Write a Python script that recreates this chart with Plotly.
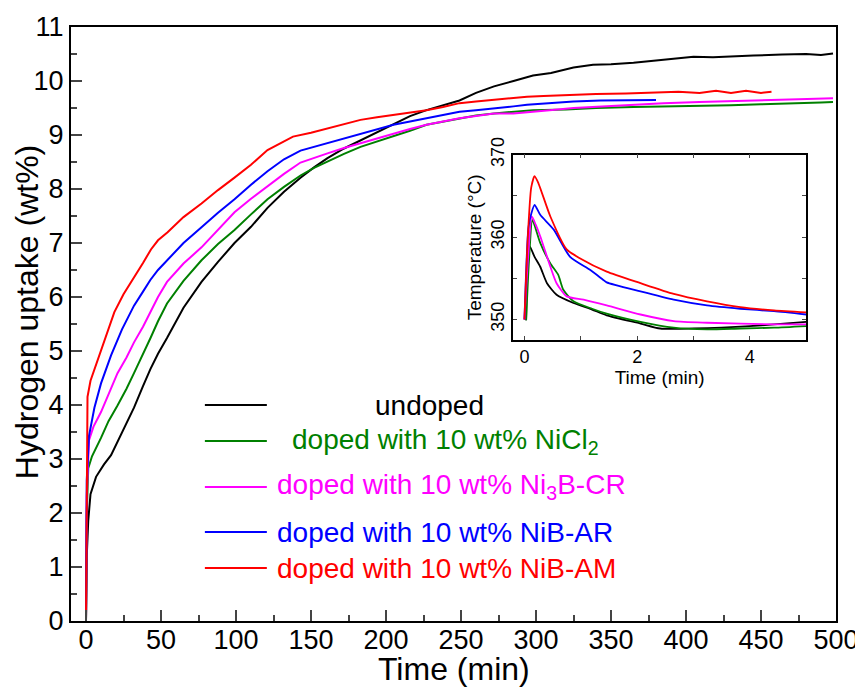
import plotly.graph_objects as go

# ---------------- main panel data: hydrogen uptake (wt%) vs time (min) ----------------
t_undoped = [0, 0.5, 1.5, 3, 6.7, 12, 16.7, 24, 32, 38, 43, 48, 54, 65, 77, 88, 99, 110, 121, 132,
             143, 152, 161, 172, 183, 194, 205, 216, 227, 238, 249, 260, 272, 285, 298, 310, 325, 338,
             350, 365, 380, 395, 405, 418, 431, 445, 464, 480, 490, 498]
h_undoped = [0, 1.2, 1.86, 2.35, 2.67, 2.9, 3.07, 3.5, 3.95, 4.35, 4.67, 4.95, 5.24, 5.8, 6.28, 6.65,
             7.0, 7.3, 7.65, 7.95, 8.21, 8.4, 8.57, 8.75, 8.9, 9.05, 9.2, 9.35, 9.46, 9.55, 9.64, 9.78,
             9.9, 10.0, 10.1, 10.15, 10.25, 10.30, 10.31, 10.34, 10.38, 10.42, 10.45, 10.44, 10.46,
             10.47, 10.49, 10.50, 10.48, 10.51]

t_nicl2 = [0, 0.5, 1.5, 4, 10, 15, 21, 27, 32, 38, 43, 48, 54, 65, 77, 88, 99, 110, 121, 132, 143,
           152, 161, 172, 183, 194, 205, 216, 227, 238, 249, 260, 272, 285, 298, 320, 340, 365, 390,
           410, 430, 450, 470, 490, 498]
h_nicl2 = [0, 2.0, 2.83, 3.05, 3.39, 3.7, 3.99, 4.3, 4.59, 4.93, 5.24, 5.55, 5.88, 6.3, 6.68, 6.98,
           7.24, 7.53, 7.81, 8.04, 8.25, 8.39, 8.51, 8.65, 8.78, 8.88, 8.97, 9.08, 9.19, 9.25, 9.31,
           9.36, 9.40, 9.43, 9.46, 9.47, 9.50, 9.52, 9.53, 9.55, 9.55, 9.57, 9.58, 9.60, 9.61]

t_ni3b = [0, 0.5, 2, 5, 10, 15, 21, 27, 32, 38, 43, 48, 54, 65, 77, 88, 99, 110, 121, 132, 143, 152,
          161, 172, 183, 194, 205, 216, 227, 238, 249, 260, 272, 285, 298, 309, 325, 345, 365, 385,
          409, 430, 453, 475, 498]
h_ni3b = [0, 2.3, 3.35, 3.6, 3.87, 4.2, 4.59, 4.88, 5.16, 5.45, 5.72, 6.0, 6.28, 6.62, 6.92, 7.25,
          7.57, 7.82, 8.05, 8.28, 8.49, 8.58, 8.66, 8.76, 8.85, 8.94, 9.03, 9.11, 9.19, 9.25, 9.31,
          9.35, 9.40, 9.40, 9.44, 9.46, 9.50, 9.53, 9.57, 9.59, 9.61, 9.63, 9.65, 9.66, 9.68]

t_nibar = [0, 0.5, 2, 5.6, 10, 16.7, 24, 32, 38, 43, 48, 54, 65, 77, 88, 99, 110, 121, 132, 143,
           152, 161, 172, 183, 194, 205, 216, 227, 238, 249, 260, 272, 285, 294, 309, 325, 343, 360, 380]
h_nibar = [0, 2.6, 3.43, 3.95, 4.4, 4.92, 5.4, 5.84, 6.1, 6.32, 6.5, 6.68, 7.0, 7.29, 7.56, 7.81,
           8.08, 8.33, 8.55, 8.71, 8.78, 8.85, 8.94, 9.03, 9.11, 9.19, 9.25, 9.31, 9.37, 9.43, 9.46,
           9.49, 9.53, 9.56, 9.59, 9.62, 9.64, 9.64, 9.65]

t_nibam = [0, 0.5, 1, 3, 7.8, 13, 18.9, 25, 32.2, 38, 43.3, 48, 54.4, 65, 77, 88, 99, 110, 121, 132,
           138, 150, 161, 172, 183, 194, 205, 216, 227, 238, 249, 260, 272, 285, 294, 305, 320, 340,
           360, 373, 385, 395, 409, 420, 430, 440, 450, 457]
h_nibam = [0, 3.5, 4.15, 4.45, 4.83, 5.25, 5.72, 6.05, 6.36, 6.63, 6.88, 7.05, 7.2, 7.48, 7.73, 7.98,
           8.21, 8.45, 8.72, 8.88, 8.97, 9.04, 9.12, 9.2, 9.28, 9.33, 9.37, 9.42, 9.46, 9.52, 9.59,
           9.62, 9.65, 9.68, 9.71, 9.72, 9.74, 9.76, 9.77, 9.78, 9.78, 9.80, 9.78, 9.82, 9.78, 9.82,
           9.78, 9.80]

# ---------------- inset data: temperature (°C) vs time (min) ----------------
ti_undoped = [0.03, 0.09, 0.18, 0.28, 0.4, 0.57, 0.87, 1.2, 1.46, 2.06, 2.41, 3.0, 3.5, 4.0, 4.43, 5.0]
Ti_undoped = [349.9, 358.9, 357.6, 356.4, 354.4, 353.0, 352.0, 351.2, 350.5, 349.5, 348.9, 348.9,
              349.0, 349.2, 349.4, 349.7]

ti_nicl2 = [0.03, 0.08, 0.14, 0.2, 0.28, 0.46, 0.6, 0.69, 0.87, 1.2, 1.46, 2.06, 2.65, 3.24, 3.83, 4.43, 5.0]
Ti_nicl2 = [349.9, 357.0, 362.1, 361.0, 359.3, 356.8, 355.4, 353.6, 352.2, 351.3, 350.7, 349.7,
            349.0, 348.8, 348.9, 349.0, 349.2]

ti_ni3b = [0.0, 0.07, 0.13, 0.2, 0.28, 0.46, 0.57, 0.75, 1.05, 1.46, 2.06, 2.65, 3.24, 4.43, 5.0]
Ti_ni3b = [350.0, 358.0, 362.5, 361.5, 360.1, 356.4, 354.4, 352.8, 352.4, 351.7, 350.6, 349.8, 349.6,
           349.4, 349.4]

ti_nibar = [0.0, 0.07, 0.12, 0.18, 0.28, 0.52, 0.81, 1.17, 1.4, 1.46, 2.06, 2.65, 3.24, 3.83, 4.43, 5.0]
Ti_nibar = [350.0, 361.1, 362.8, 363.9, 362.7, 360.9, 357.6, 356.0, 354.8, 354.5, 353.4, 352.4, 351.7,
            351.3, 351.0, 350.6]

ti_nibam = [0.0, 0.06, 0.12, 0.18, 0.25, 0.46, 0.75, 0.99, 1.46, 2.06, 2.65, 3.24, 3.83, 4.43, 5.0]
Ti_nibam = [350.0, 360.0, 366.0, 367.4, 366.5, 362.5, 358.5, 357.4, 355.8, 354.4, 353.1, 352.2, 351.5,
            351.1, 350.85]

SERIES_LABELS = ["undoped",
                 "doped with 10 wt% NiCl<sub>2</sub>",
                 "doped with 10 wt% Ni<sub>3</sub>B-CR",
                 "doped with 10 wt% NiB-AR",
                 "doped with 10 wt% NiB-AM"]
COLORS = ["#000000", "#008000", "#ff00ff", "#0000ff", "#ff0000"]

X_TICKS = list(range(0, 501, 50))
Y_TICKS = list(range(0, 12))
INSET_X_TICKS = [0, 1, 2, 3, 4, 5]
INSET_X_TEXT = ["0", "", "2", "", "4", ""]
INSET_Y_TICKS = [350, 355, 360, 365, 370]
INSET_Y_TEXT = ["350", "", "360", "", "370"]

main_data = [(t_undoped, h_undoped), (t_nicl2, h_nicl2), (t_ni3b, h_ni3b),
             (t_nibar, h_nibar), (t_nibam, h_nibam)]
inset_data = [(ti_undoped, Ti_undoped), (ti_nicl2, Ti_nicl2), (ti_ni3b, Ti_ni3b),
              (ti_nibar, Ti_nibar), (ti_nibam, Ti_nibam)]

FONT = "Liberation Sans, Arial, sans-serif"

fig = go.Figure()
for (tx, hy), name, col in zip(main_data, SERIES_LABELS, COLORS):
    fig.add_trace(go.Scatter(x=tx, y=hy, mode="lines", name=name,
                             line=dict(color=col, width=2), showlegend=False,
                             xaxis="x", yaxis="y"))
for (tx, ty), name, col in zip(inset_data, SERIES_LABELS, COLORS):
    fig.add_trace(go.Scatter(x=tx, y=ty, mode="lines", name=name,
                             line=dict(color=col, width=1.8, shape="spline", smoothing=0.6),
                             showlegend=False, xaxis="x2", yaxis="y2"))

# legend drawn as keys + labels inside the plot area
leg_y = [0.3636, 0.3030, 0.2256, 0.1498, 0.0892]
leg_tx = [0.468, 0.286, 0.2667, 0.2667, 0.2667]
leg_anchor = ["center", "left", "left", "left", "left"]
shapes = []
annotations = []
for lab, col, yy, tx, anc in zip(SERIES_LABELS, COLORS, leg_y, leg_tx, leg_anchor):
    shapes.append(dict(type="line", xref="paper", yref="paper", x0=0.175, x1=0.256, y0=yy, y1=yy,
                       line=dict(color=col, width=2)))
    annotations.append(dict(text=lab, xref="paper", yref="paper", x=tx, y=yy, xanchor=anc,
                            yanchor="middle", showarrow=False,
                            font=dict(family=FONT, size=28, color=col)))

# main axis titles
annotations.append(dict(text="Time (min)", xref="paper", yref="paper", x=0.5, y=-0.081,
                        xanchor="center", yanchor="middle", showarrow=False,
                        font=dict(family=FONT, size=32, color="black")))
annotations.append(dict(text="Hydrogen uptake (wt%)", xref="paper", yref="paper", x=-0.0575, y=0.52,
                        xanchor="center", yanchor="middle", textangle=-90, showarrow=False,
                        font=dict(family=FONT, size=32, color="black")))

axis_common = dict(showline=True, linecolor="black", mirror=True, showgrid=False, zeroline=False,
                   automargin=False)

# the page body adds an 8 px offset, so the figure is sized to fill the remaining window
fig.update_layout(
    width=855, height=683,
    margin=dict(l=63, r=27, t=19, b=70),
    paper_bgcolor="white", plot_bgcolor="white",
    font=dict(family=FONT, color="black"),
    shapes=shapes, annotations=annotations,
    xaxis=dict(**axis_common, linewidth=2, domain=[0, 1], range=[-10, 500],
               tickvals=X_TICKS, ticks="inside", ticklen=11, tickwidth=2,
               minor=dict(ticks="inside", ticklen=6, tickwidth=2, dtick=25, tick0=0),
               ticklabelstandoff=-6,
               tickfont=dict(family=FONT, size=27)),
    yaxis=dict(**axis_common, linewidth=2, domain=[0, 1], range=[0, 11],
               tickvals=Y_TICKS, ticks="inside", ticklen=11, tickwidth=2,
               minor=dict(ticks="inside", ticklen=6, tickwidth=2, dtick=0.5, tick0=0),
               tickfont=dict(family=FONT, size=27)),
    xaxis2=dict(showline=True, linecolor="black", mirror="allticks", showgrid=False, zeroline=False,
                automargin=False,
                linewidth=1.5, anchor="y2", domain=[0.578, 0.961], range=[-0.2, 5],
                tickvals=INSET_X_TICKS, ticktext=INSET_X_TEXT, ticks="inside", ticklen=4, tickwidth=1,
                tickfont=dict(family=FONT, size=18),
                title=dict(text="Time (min)", font=dict(family=FONT, size=19), standoff=0)),
    yaxis2=dict(showline=True, linecolor="black", mirror="allticks", showgrid=False, zeroline=False,
                automargin=False,
                linewidth=1.5, anchor="x2", domain=[0.473, 0.785], range=[347.5, 370],
                tickvals=INSET_Y_TICKS, ticktext=INSET_Y_TEXT, ticks="inside", ticklen=4, tickwidth=1,
                tickangle=-90, tickfont=dict(family=FONT, size=18),
                title=dict(text="Temperature (°C)", font=dict(family=FONT, size=19), standoff=2)),
)

fig.write_html("out.html")
